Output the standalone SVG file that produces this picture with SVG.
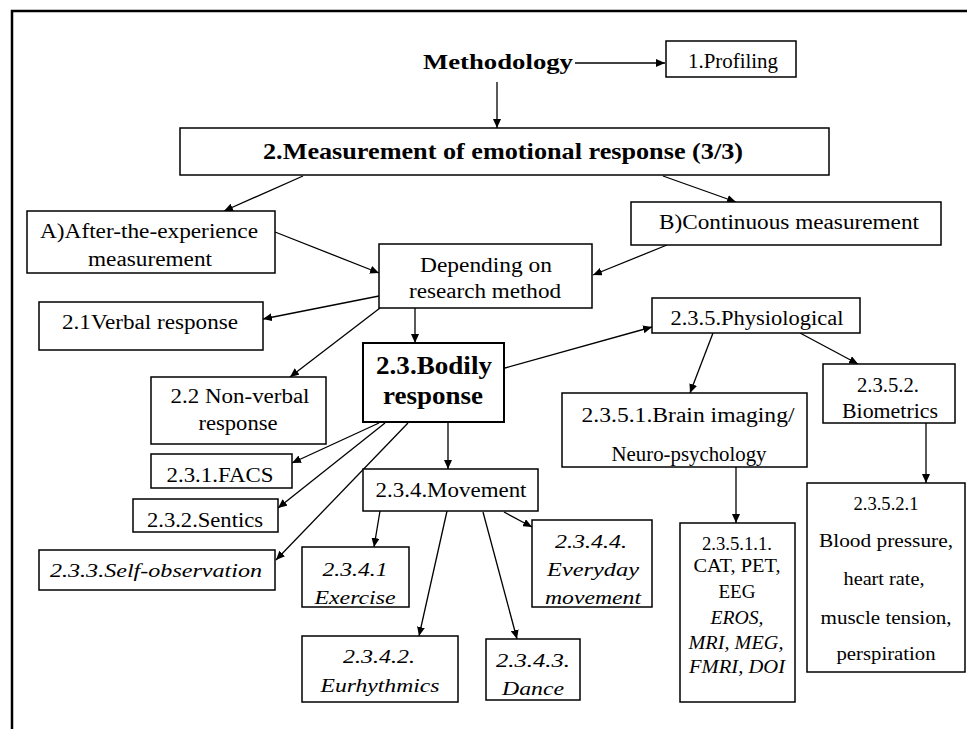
<svg xmlns="http://www.w3.org/2000/svg" width="967" height="729" viewBox="0 0 967 729" font-family="'Liberation Serif', Tinos, 'Times New Roman', Times, serif">
<style>
  text { font-family: 'Liberation Serif', Tinos, 'Times New Roman', Times, serif; fill: #000; text-anchor: middle; }
  .n { font-size: 20px; }
  .s { font-size: 18px; }
  .i { font-size: 19px; font-style: italic; }
  .b { font-weight: bold; }
  .box { fill: #fff; stroke: #000; stroke-width: 1.5; }
  .thick { stroke-width: 2; }
  .conn line { stroke: #000; stroke-width: 1.3; marker-end: url(#ah); }
</style>
<defs>
  <marker id="ah" markerUnits="userSpaceOnUse" markerWidth="9" markerHeight="8" refX="9" refY="4" orient="auto">
    <path d="M0,0 L9,4 L0,8 z" fill="#000"/>
  </marker>
</defs>
<rect x="0" y="0" width="967" height="729" fill="#fff"/>
<path d="M12,729 L12,11 L967,11" fill="none" stroke="#000" stroke-width="2.5"/>

<g id="connectors" class="conn">
  <line x1="575" y1="63" x2="665" y2="63"/>
  <line x1="497" y1="82" x2="497" y2="128"/>
  <line x1="303" y1="176" x2="224" y2="211"/>
  <line x1="663" y1="176" x2="736" y2="202"/>
  <line x1="275" y1="232" x2="379" y2="273"/>
  <line x1="667" y1="245" x2="593" y2="275"/>
  <line x1="379" y1="296" x2="263" y2="319"/>
  <line x1="380" y1="308" x2="290" y2="377"/>
  <line x1="415" y1="308" x2="415" y2="343"/>
  <line x1="505" y1="368" x2="652" y2="327"/>
  <line x1="713" y1="333" x2="690" y2="393"/>
  <line x1="800" y1="333" x2="858" y2="364"/>
  <line x1="926" y1="423" x2="926" y2="483"/>
  <line x1="736" y1="467" x2="736" y2="523"/>
  <line x1="379" y1="423" x2="292" y2="463"/>
  <line x1="385" y1="423" x2="278" y2="508"/>
  <line x1="408" y1="423" x2="276" y2="560"/>
  <line x1="448" y1="423" x2="448" y2="469"/>
  <line x1="380" y1="511" x2="374" y2="547"/>
  <line x1="447" y1="511" x2="419" y2="636"/>
  <line x1="483" y1="512" x2="517" y2="639"/>
  <line x1="504" y1="512" x2="532" y2="527"/>
</g>

<g id="methodology">
  <text class="b" x="498" y="69" font-size="22" textLength="150" lengthAdjust="spacingAndGlyphs">Methodology</text>
</g>
<g id="profiling">
  <rect class="box" x="666" y="41" width="130" height="36"/>
  <text class="n" x="733" y="68" textLength="90" lengthAdjust="spacingAndGlyphs">1.Profiling</text>
</g>
<g id="measurement">
  <rect class="box" x="180" y="128" width="649" height="47"/>
  <text class="b" x="503" y="159" font-size="24" textLength="480" lengthAdjust="spacingAndGlyphs">2.Measurement of emotional response (3/3)</text>
</g>
<g id="after">
  <rect class="box" x="27" y="211" width="248" height="62"/>
  <text class="n" x="149" y="238" textLength="218" lengthAdjust="spacingAndGlyphs">A)After-the-experience</text>
  <text class="n" x="150" y="266" textLength="124" lengthAdjust="spacingAndGlyphs">measurement</text>
</g>
<g id="continuous">
  <rect class="box" x="631" y="202" width="310" height="43"/>
  <text class="n" x="789" y="229" textLength="260" lengthAdjust="spacingAndGlyphs">B)Continuous  measurement</text>
</g>
<g id="depending">
  <rect class="box" x="379" y="244" width="213" height="64"/>
  <text class="n" x="486" y="272" textLength="132" lengthAdjust="spacingAndGlyphs">Depending  on</text>
  <text class="n" x="485" y="298" textLength="152" lengthAdjust="spacingAndGlyphs">research method</text>
</g>
<g id="verbal">
  <rect class="box" x="39" y="302" width="224" height="48"/>
  <text class="n" x="150" y="329" textLength="176" lengthAdjust="spacingAndGlyphs">2.1Verbal response</text>
</g>
<g id="nonverbal">
  <rect class="box" x="151" y="377" width="175" height="67"/>
  <text class="n" x="240" y="403" textLength="139" lengthAdjust="spacingAndGlyphs">2.2 Non-verbal</text>
  <text class="n" x="238" y="430" textLength="79" lengthAdjust="spacingAndGlyphs">response</text>
</g>
<g id="bodily">
  <rect class="box thick" x="363" y="343" width="141" height="79"/>
  <text class="b" x="434" y="374" font-size="25" textLength="116" lengthAdjust="spacingAndGlyphs">2.3.Bodily</text>
  <text class="b" x="433" y="404" font-size="25" textLength="100" lengthAdjust="spacingAndGlyphs">response</text>
</g>
<g id="physiological">
  <rect class="box" x="652" y="298" width="208" height="35"/>
  <text class="n" x="757" y="325" textLength="173" lengthAdjust="spacingAndGlyphs">2.3.5.Physiological</text>
</g>
<g id="brain">
  <rect class="box" x="562" y="393" width="245" height="74"/>
  <text class="n" x="688" y="422" textLength="213" lengthAdjust="spacingAndGlyphs">2.3.5.1.Brain imaging/</text>
  <text class="n" x="689" y="461" textLength="155" lengthAdjust="spacingAndGlyphs">Neuro-psychology</text>
</g>
<g id="biometrics">
  <rect class="box" x="823" y="364" width="132" height="59"/>
  <text class="n" x="888" y="392" textLength="62" lengthAdjust="spacingAndGlyphs">2.3.5.2.</text>
  <text class="n" x="890" y="418" textLength="96" lengthAdjust="spacingAndGlyphs">Biometrics</text>
</g>
<g id="blood">
  <rect class="box" x="807" y="483" width="158" height="189"/>
  <text class="s" x="886" y="510" textLength="65" lengthAdjust="spacingAndGlyphs">2.3.5.2.1</text>
  <text class="s" x="886" y="547" textLength="134" lengthAdjust="spacingAndGlyphs">Blood pressure,</text>
  <text class="s" x="884" y="585" textLength="81" lengthAdjust="spacingAndGlyphs">heart rate,</text>
  <text class="s" x="886" y="624" textLength="131" lengthAdjust="spacingAndGlyphs">muscle tension,</text>
  <text class="s" x="886" y="660" textLength="99" lengthAdjust="spacingAndGlyphs">perspiration</text>
</g>
<g id="cat">
  <rect class="box" x="680" y="523" width="115" height="179"/>
  <text class="s" x="737" y="550" textLength="70" lengthAdjust="spacingAndGlyphs">2.3.5.1.1.</text>
  <text class="s" x="737" y="572" textLength="87" lengthAdjust="spacingAndGlyphs">CAT, PET,</text>
  <text class="s" x="737" y="598" textLength="37" lengthAdjust="spacingAndGlyphs">EEG</text>
  <text class="s" x="737" y="624" font-style="italic" textLength="53" lengthAdjust="spacingAndGlyphs">EROS,</text>
  <text class="s" x="736" y="649" font-style="italic" textLength="95" lengthAdjust="spacingAndGlyphs">MRI, MEG,</text>
  <text class="s" x="737" y="673" font-style="italic" textLength="96" lengthAdjust="spacingAndGlyphs">FMRI,  DOI</text>
</g>
<g id="facs">
  <rect class="box" x="151" y="454" width="141" height="34"/>
  <text class="n" x="220" y="482" textLength="107" lengthAdjust="spacingAndGlyphs">2.3.1.FACS</text>
</g>
<g id="sentics">
  <rect class="box" x="133" y="499" width="145" height="33"/>
  <text class="n" x="205" y="527" textLength="116" lengthAdjust="spacingAndGlyphs">2.3.2.Sentics</text>
</g>
<g id="selfobs">
  <rect class="box" x="39" y="550" width="236" height="40"/>
  <text class="i" x="156" y="577" textLength="212" lengthAdjust="spacingAndGlyphs">2.3.3.Self-observation</text>
</g>
<g id="movement">
  <rect class="box" x="363" y="469" width="175" height="42"/>
  <text class="n" x="451" y="497" textLength="151" lengthAdjust="spacingAndGlyphs">2.3.4.Movement</text>
</g>
<g id="exercise">
  <rect class="box" x="302" y="547" width="107" height="60"/>
  <text class="i" x="355" y="576" textLength="65" lengthAdjust="spacingAndGlyphs">2.3.4.1</text>
  <text class="i" x="355" y="604" textLength="81" lengthAdjust="spacingAndGlyphs">Exercise</text>
</g>
<g id="everyday">
  <rect class="box" x="532" y="520" width="120" height="87"/>
  <text class="i" x="591" y="548" textLength="72" lengthAdjust="spacingAndGlyphs">2.3.4.4.</text>
  <text class="i" x="593" y="576" textLength="92" lengthAdjust="spacingAndGlyphs">Everyday</text>
  <text class="i" x="593" y="604" textLength="96" lengthAdjust="spacingAndGlyphs">movement</text>
</g>
<g id="eurhythmics">
  <rect class="box" x="302" y="636" width="156" height="66"/>
  <text class="i" x="379" y="663" textLength="72" lengthAdjust="spacingAndGlyphs">2.3.4.2.</text>
  <text class="i" x="380" y="692" textLength="119" lengthAdjust="spacingAndGlyphs">Eurhythmics</text>
</g>
<g id="dance">
  <rect class="box" x="486" y="639" width="94" height="61"/>
  <text class="i" x="533" y="667" textLength="74" lengthAdjust="spacingAndGlyphs">2.3.4.3.</text>
  <text class="i" x="533" y="695" textLength="62" lengthAdjust="spacingAndGlyphs">Dance</text>
</g>
</svg>
